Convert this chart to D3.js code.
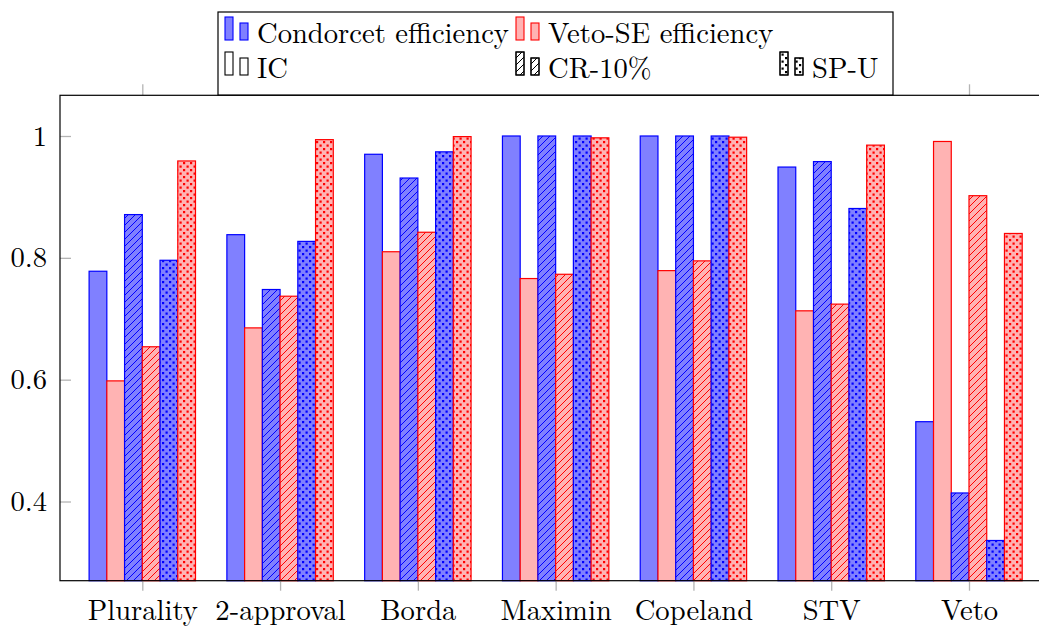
<!DOCTYPE html>
<html>
<head>
<meta charset="utf-8">
<script src="https://cdn.jsdelivr.net/npm/d3@7"></script>
<style>
  html, body { margin: 0; padding: 0; background: #fff; }
  svg { display: block; }
</style>
</head>
<body>
<svg id="chart" width="1039" height="628"></svg>
<script>
// ---- data ----
const categories = ["Plurality", "2-approval", "Borda", "Maximin", "Copeland", "STV", "Veto"];
const distributions = ["IC", "CR-10%", "SP-U"];
const metrics = ["Condorcet efficiency", "Veto-SE efficiency"];
// Condorcet efficiency per distribution
const condorcetIC  = [0.778, 0.838, 0.970, 1.000, 1.000, 0.949, 0.531];
const condorcetCR  = [0.871, 0.748, 0.931, 1.000, 1.000, 0.958, 0.414];
const condorcetSPU = [0.796, 0.827, 0.974, 1.000, 1.000, 0.881, 0.336];
// Veto-SE efficiency per distribution
const vetoseIC  = [0.598, 0.685, 0.810, 0.766, 0.779, 0.713, 0.991];
const vetoseCR  = [0.654, 0.737, 0.842, 0.773, 0.795, 0.724, 0.902];
const vetoseSPU = [0.959, 0.994, 0.999, 0.997, 0.998, 0.985, 0.840];
const yTickValues = [0.4, 0.6, 0.8, 1];
const yTickLabels = ["0.4", "0.6", "0.8", "1"];

// series in drawing order (within each group)
const series = [
  { metric: 0, dist: 0, values: condorcetIC },
  { metric: 1, dist: 0, values: vetoseIC },
  { metric: 0, dist: 1, values: condorcetCR },
  { metric: 1, dist: 1, values: vetoseCR },
  { metric: 0, dist: 2, values: condorcetSPU },
  { metric: 1, dist: 2, values: vetoseSPU }
];

// ---- styles ----
const strokeCol = ["#0000ff", "#ff0000"];
const fillCol = ["#8080ff", "#ffb3b3"];

// pick the first installed serif family
const candidates = ["Latin Modern Roman", "CMU Serif", "Liberation Serif", "Tinos", "Times New Roman",
  "Nimbus Roman", "FreeSerif", "DejaVu Serif", "Noto Serif"];
const cvs = document.createElement("canvas").getContext("2d");
function widthWith(f) { cvs.font = `40px ${f}`; return cvs.measureText("mmmmmmmmmmlliWWQ@#0.8").width; }
let chosen = null;
for (const c of candidates) {
  const a = widthWith(`"${c}", monospace`), b = widthWith("monospace");
  const a2 = widthWith(`"${c}", sans-serif`), b2 = widthWith("sans-serif");
  if (a !== b || a2 !== b2) { chosen = c; break; }
}
const FAMILY = chosen ? `"${chosen}", serif` : "serif";

const svg = d3.select("#chart");
const M = { left: 60, right: 1051, top: 95.3, bottom: 580.7 };

// fit font size so that the legend label matches the reference width (~252px)
const probe = svg.append("text").attr("font-size", 30).style("font-family", FAMILY).text(metrics[0]);
const probeW = probe.node().getComputedTextLength();
probe.remove();
const FONT = Math.max(24, Math.min(30, 30 * 252 / (probeW || 252)));

// patterns
const defs = svg.append("defs");
function hatch(id, col) {
  const p = defs.append("pattern").attr("id", id).attr("patternUnits", "userSpaceOnUse")
    .attr("width", 7).attr("height", 7);
  p.append("path").attr("d", "M0,7 L7,0 M-2,2 L2,-2 M5,9 L9,5")
    .attr("stroke", col).attr("stroke-width", 1).attr("fill", "none");
}
function dots(id, col) {
  const p = defs.append("pattern").attr("id", id).attr("patternUnits", "userSpaceOnUse")
    .attr("width", 7).attr("height", 7);
  p.append("rect").attr("x", 1).attr("y", 1).attr("width", 2.2).attr("height", 2.2).attr("fill", col);
  p.append("rect").attr("x", 4.5).attr("y", 4.5).attr("width", 2.2).attr("height", 2.2).attr("fill", col);
}
hatch("hatch-0", strokeCol[0]); hatch("hatch-1", strokeCol[1]); hatch("hatch-k", "#000");
dots("dots-0", strokeCol[0]); dots("dots-1", strokeCol[1]); dots("dots-k", "#000");
const patternFor = (dist, key) => dist === 1 ? `url(#hatch-${key})` : dist === 2 ? `url(#dots-${key})` : null;

// ---- scales ----
const x = d3.scalePoint().domain(categories).range([142.3, 969]);
const inner = d3.scaleBand().domain(d3.range(series.length)).range([-53.2, 53.2]).padding(0);
const y = d3.scaleLinear().domain([0.27, 1.0668]).range([M.bottom, M.top]);

// ---- bars ----
const gBars = svg.append("g");
series.forEach((s, si) => {
  const g = gBars.append("g");
  const xs = c => x(c) + inner(si);
  const layer = cls => g.selectAll("rect." + cls).data(categories).join("rect")
    .attr("class", cls)
    .attr("x", c => xs(c)).attr("width", inner.bandwidth())
    .attr("y", (c, i) => y(s.values[i])).attr("height", (c, i) => M.bottom - y(s.values[i]));
  layer("fill").attr("fill", fillCol[s.metric]);
  const pat = patternFor(s.dist, s.metric);
  if (pat) layer("pat").attr("fill", pat);
  layer("edge").attr("fill", "none").attr("stroke", strokeCol[s.metric]).attr("stroke-width", 1.2);
});

// ---- axes ----
const tickGray = "#b4b4b4";
const yAxis = svg.append("g").attr("transform", `translate(${M.left},0)`)
  .call(d3.axisLeft(y).tickValues(yTickValues).tickSize(-11).tickPadding(13)
    .tickFormat((d, i) => yTickLabels[i]));
yAxis.select(".domain").remove();
yAxis.selectAll(".tick line").attr("stroke", tickGray).attr("stroke-width", 1.3);
yAxis.selectAll(".tick text").attr("font-size", FONT).attr("fill", "#000")
  .style("font-family", FAMILY);

const xAxis = svg.append("g").attr("transform", `translate(0,${M.bottom})`)
  .call(d3.axisBottom(x).tickSize(10));
xAxis.select(".domain").remove();
xAxis.selectAll(".tick line").attr("stroke", tickGray).attr("stroke-width", 1.3);
xAxis.selectAll(".tick text").attr("font-size", FONT).attr("fill", "#000")
  .attr("y", 39.5).attr("dy", 0)
  .style("font-family", FAMILY);

const xTop = svg.append("g").attr("transform", `translate(0,${M.top})`)
  .call(d3.axisTop(x).tickSize(11).tickFormat(""));
xTop.select(".domain").remove();
xTop.selectAll(".tick line").attr("stroke", tickGray).attr("stroke-width", 1.3);

// frame
svg.append("rect").attr("x", M.left).attr("y", M.top).attr("width", M.right - M.left).attr("height", M.bottom - M.top)
  .attr("fill", "none").attr("stroke", "#000").attr("stroke-width", 1.2);

// ---- legend ----
const lg = svg.append("g");
lg.append("rect").attr("x", 218).attr("y", 12).attr("width", 675).attr("height", 83)
  .attr("fill", "#fff").attr("stroke", "#000").attr("stroke-width", 1.2);

const legendItems = [
  { label: metrics[0], fill: fillCol[0], stroke: strokeCol[0], pat: null, col: 0, row: 0 },
  { label: metrics[1], fill: fillCol[1], stroke: strokeCol[1], pat: null, col: 1, row: 0 },
  { label: distributions[0], fill: "#fff", stroke: "#000", pat: null, col: 0, row: 1 },
  { label: distributions[1], fill: "#fff", stroke: "#000", pat: patternFor(1, "k"), col: 1, row: 1 },
  { label: distributions[2], fill: "#fff", stroke: "#000", pat: patternFor(2, "k"), col: 2, row: 1 }
];
const colX = [225, 516, 780];
const rowBase = [43, 78];
legendItems.forEach(it => {
  const x0 = colX[it.col], b = rowBase[it.row] - 3;
  const bars = [{ dx: 0, h: 23 }, { dx: 15, h: 17 }];
  bars.forEach(bb => {
    lg.append("rect").attr("x", x0 + bb.dx).attr("y", b - bb.h).attr("width", 8).attr("height", bb.h)
      .attr("fill", it.fill).attr("stroke", it.stroke).attr("stroke-width", 1.1);
    if (it.pat) {
      lg.append("rect").attr("x", x0 + bb.dx).attr("y", b - bb.h).attr("width", 8).attr("height", bb.h)
        .attr("fill", it.pat).attr("stroke", it.stroke).attr("stroke-width", 1.1);
    }
  });
  lg.append("text").attr("x", x0 + 32).attr("y", rowBase[it.row])
    .attr("font-size", FONT).style("font-family", FAMILY).attr("fill", "#000").text(it.label);
});
</script>
</body>
</html>
